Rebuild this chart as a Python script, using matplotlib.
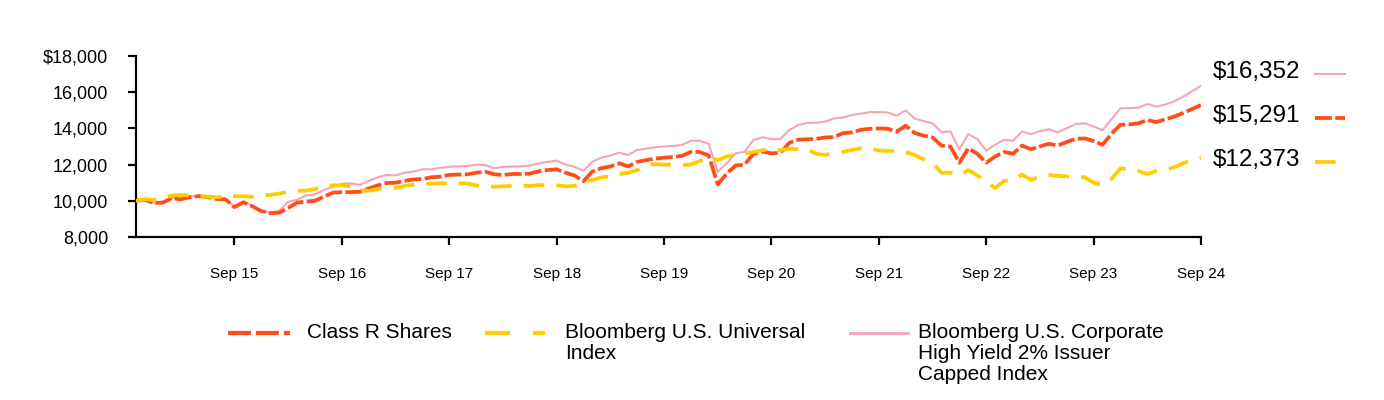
import matplotlib
matplotlib.use("Agg")
import matplotlib.pyplot as plt
from matplotlib.lines import Line2D
from matplotlib.ticker import FuncFormatter

plt.rcParams['font.family'] = ['Liberation Sans', 'DejaVu Sans']

# Monthly index positions: 0 = start (Sep 2014 base), 119 = Sep 2024
class_r = [10000, 10050, 9880, 9900, 10150, 10080, 10200, 10260, 10200, 10100,
           10080, 9650, 9920, 9700, 9430, 9320, 9340, 9600, 9900, 9960,
           10000, 10230, 10450, 10480, 10480, 10500, 10680, 10850, 10980, 11000,
           11100, 11180, 11200, 11300, 11330, 11430, 11450, 11460, 11550, 11610,
           11470, 11420, 11480, 11480, 11500, 11630, 11700, 11740, 11550, 11400,
           11080, 11620, 11800, 11900, 12070, 11900, 12150, 12250, 12330, 12380,
           12420, 12480, 12700, 12700, 12500, 10900, 11500, 11950, 12000, 12600,
           12720, 12620, 12650, 13200, 13380, 13400, 13420, 13500, 13520, 13740,
           13780, 13920, 13980, 14000, 13980, 13820, 14150, 13750, 13600, 13500,
           13050, 13000, 12100, 12900, 12600, 12100, 12450, 12700, 12600, 13050,
           12850, 13000, 13150, 13050, 13250, 13420, 13450, 13300, 13100, 13700,
           14200, 14220, 14280, 14460, 14350, 14500, 14650, 14850, 15070, 15291]

universal = [10000, 10080, 10050, 10150, 10300, 10320, 10300, 10250, 10230, 10200,
             10230, 10250, 10250, 10220, 10280, 10320, 10400, 10500, 10550, 10560,
             10650, 10830, 10850, 10850, 10800, 10580, 10550, 10650, 10700, 10720,
             10820, 10900, 10920, 10950, 10970, 10980, 10970, 10960, 10850, 10780,
             10780, 10800, 10820, 10830, 10820, 10870, 10880, 10860, 10800, 10820,
             11000, 11150, 11300, 11350, 11480, 11550, 11700, 12000, 12020, 12000,
             12000, 11980, 12000, 12200, 12400, 12250, 12450, 12550, 12620, 12700,
             12800, 12820, 12800, 12870, 12850, 12850, 12600, 12530, 12660, 12700,
             12810, 12900, 12900, 12780, 12750, 12760, 12700, 12530, 12300, 12100,
             11550, 11550, 11400, 11700, 11400, 11050, 10700, 11100, 11150, 11450,
             11150, 11350, 11430, 11380, 11350, 11330, 11300, 11000, 10870, 11200,
             11790, 11750, 11650, 11480, 11650, 11700, 11850, 12070, 12250, 12373]

high_yield = [10000, 10050, 9900, 9920, 10170, 10100, 10220, 10280, 10220, 10120,
              10100, 9680, 9950, 9720, 9450, 9350, 9450, 9950, 10050, 10300,
              10350, 10600, 10780, 10950, 10970, 10870, 11100, 11300, 11430, 11400,
              11550, 11610, 11740, 11740, 11820, 11880, 11900, 11920, 12000, 11980,
              11800, 11870, 11890, 11900, 11950, 12070, 12150, 12220, 12000, 11880,
              11660, 12160, 12380, 12500, 12660, 12530, 12810, 12880, 12960, 13000,
              13030, 13080, 13320, 13320, 13140, 11610, 12070, 12620, 12710, 13360,
              13510, 13400, 13410, 13910, 14190, 14300, 14320, 14370, 14550, 14600,
              14740, 14820, 14900, 14900, 14880, 14710, 14990, 14550, 14400, 14280,
              13790, 13830, 12850, 13680, 13410, 12770, 13100, 13360, 13320, 13830,
              13680, 13850, 13950, 13790, 14010, 14240, 14280, 14100, 13910, 14500,
              15110, 15120, 15140, 15350, 15200, 15320, 15490, 15750, 16050, 16352]

tick_labels = ["Sep 15", "Sep 16", "Sep 17", "Sep 18", "Sep 19",
               "Sep 20", "Sep 21", "Sep 22", "Sep 23", "Sep 24"]
tick_positions = [11, 23, 35, 47, 59, 71, 83, 95, 107, 119]

series_names = ["Class R Shares", "Bloomberg U.S. Universal\nIndex",
                "Bloomberg U.S. Corporate\nHigh Yield 2% Issuer\nCapped Index"]
end_labels = ["$16,352", "$15,291", "$12,373"]

C_ORANGE = "#FF4D1A"
C_YELLOW = "#FFCC00"
C_PINK = "#F7A3B8"

fig = plt.figure(figsize=(13.84, 4.0), dpi=100)
ax = fig.add_axes([136/1384, 1-237/400, (1201-136)/1384, (237-56)/400])

x = list(range(len(class_r)))
ax.plot(x, high_yield, color=C_PINK, lw=1.5, solid_joinstyle='miter', zorder=2)
ax.plot(x, class_r, color=C_ORANGE, lw=2.7, dashes=(4.5, 0.9), zorder=3)
ax.plot(x, universal, color=C_YELLOW, lw=2.7, dashes=(5.5, 3.2), zorder=4)

ax.set_xlim(0, 119)
ax.set_ylim(8000, 18000)
ax.set_yticks(range(8000, 18001, 2000))
ax.yaxis.set_major_formatter(FuncFormatter(
    lambda v, p: ("$" if v == 18000 else "") + f"{int(v):,}"))
ax.set_xticks(tick_positions)
ax.set_xticklabels(tick_labels)

for s in ["top", "right"]:
    ax.spines[s].set_visible(False)
for s in ["left", "bottom"]:
    ax.spines[s].set_linewidth(1.6)
    ax.spines[s].set_color("black")

ax.tick_params(axis='y', direction='out', length=6, width=1.6, pad=14,
               labelsize=13)
ax.tick_params(axis='x', direction='out', length=6, width=1.6, pad=15.5,
               labelsize=11)

# End value labels with samples
end_y = [72, 116, 160]
end_styles = [dict(color=C_PINK, lw=1.5),
              dict(color=C_ORANGE, lw=2.7, dashes=(4.5, 0.9)),
              dict(color=C_YELLOW, lw=2.7, dashes=(5.5, 3.2))]
for lbl, yy, st in zip(end_labels, end_y, end_styles):
    fy = 1 - yy/400
    fig.text(1213/1384, fy, lbl, fontsize=17.5, va='center', ha='left')
    fig.add_artist(Line2D([1315/1384, 1345/1384], [fy - 2/400, fy - 2/400], **st))

# Legend (manual)
leg_y = 1 - 333/400
leg_handles = [(228, 290, dict(color=C_ORANGE, lw=3, dashes=(5.5, 1.2))),
               (485, 545, dict(color=C_YELLOW, lw=3, dashes=(6, 5.5))),
               (850, 908, dict(color=C_PINK, lw=2))]
leg_text_x = [307, 565, 918]
for (x0, x1, st), tx, name in zip(leg_handles, leg_text_x, series_names):
    fig.add_artist(Line2D([x0/1384, x1/1384], [leg_y, leg_y], **st))
    fig.text(tx/1384, 1 - 323/400, name, fontsize=15, va='top', ha='left',
             linespacing=1.12)

fig.savefig("out.png", dpi=100)
